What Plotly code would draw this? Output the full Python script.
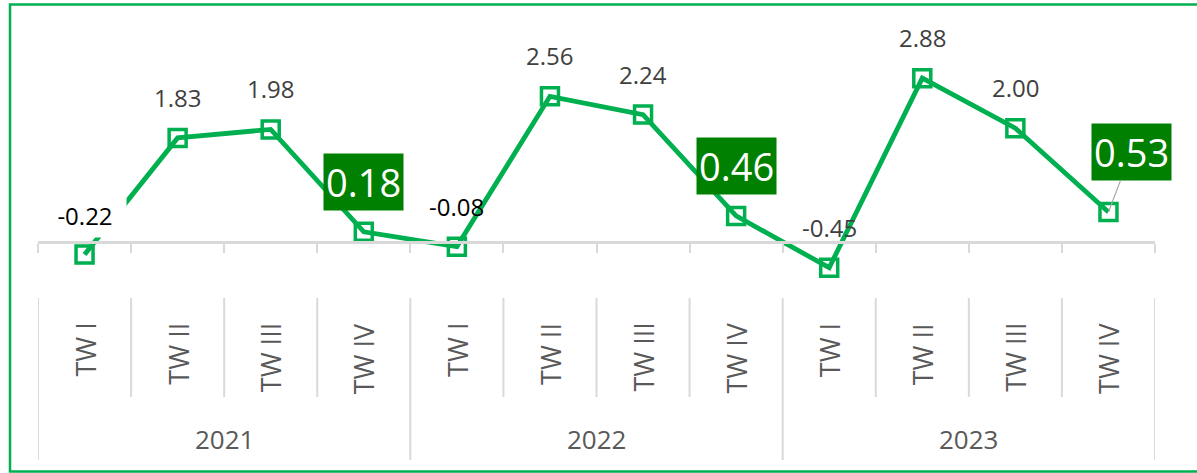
import plotly.graph_objects as go

# ---- data ----
years = ["2021", "2022", "2023"]
quarters = ["TW I", "TW II", "TW III", "TW IV"]
values = [-0.22, 1.83, 1.98, 0.18, -0.08, 2.56, 2.24, 0.46, -0.45, 2.88, 2.00, 0.53]
value_labels = [f"{v:.2f}" for v in values]

# ---- styling helpers ----
W, H = 1197, 473
GREEN = "#00B050"
DARK_GREEN = "#008000"
GRID = "#D9D9D9"
FONT = "Open Sans"

highlight_idx = {3, 7, 11}
dark_label_idx = {0, 4}


def px_x(p):
    return p / W


def px_y(p):
    return (H - p) / H


n = len(values)
x_idx = list(range(n))
YMIN, YMAX = -1, 4
y_dom = [px_y(299), px_y(14.4)]
x_dom = [px_x(38), px_x(1155)]
zero_pos = y_dom[0] + (0 - YMIN) / (YMAX - YMIN) * (y_dom[1] - y_dom[0])

fig = go.Figure()
fig.add_trace(go.Scatter(
    x=x_idx, y=values, mode="lines+markers",
    line=dict(color=GREEN, width=4.8),
    marker=dict(symbol="square-open", size=17, color=GREEN,
                line=dict(width=3.5, color=GREEN)),
    hoverinfo="skip", showlegend=False,
))

shapes = []
# category separators below the plot
for b in range(n + 1):
    is_year = b % len(quarters) == 0
    shapes.append(dict(
        type="line", xref="x", yref="paper",
        x0=b - 0.5, x1=b - 0.5,
        y0=px_y(298), y1=px_y(460 if is_year else 397),
        line=dict(color=GRID, width=2), layer="below",
    ))
# outer border
shapes.append(dict(
    type="rect", xref="paper", yref="paper",
    x0=px_x(10), x1=px_x(1210), y0=px_y(471.5), y1=px_y(4.5),
    line=dict(color=GREEN, width=2.5), fillcolor="rgba(0,0,0,0)",
))

annotations = []
# quarter labels (rotated)
for i in range(n):
    annotations.append(dict(
        x=i, y=px_y(321), xref="x", yref="paper",
        text=quarters[i % len(quarters)], textangle=-90,
        xanchor="center", yanchor="top", showarrow=False,
        font=dict(family=FONT, size=27, color="#595959"),
    ))
# year labels
for k, yr in enumerate(years):
    annotations.append(dict(
        x=k * len(quarters) + (len(quarters) - 1) / 2, y=px_y(439),
        xref="x", yref="paper", text=yr,
        xanchor="center", yanchor="middle", showarrow=False,
        font=dict(family=FONT, size=26, color="#595959"),
    ))
# value labels
for i, (v, lab) in enumerate(zip(values, value_labels)):
    if i in highlight_idx:
        a = dict(
            x=i, y=v, xref="x", yref="y", text=lab,
            bgcolor=DARK_GREEN, borderpad=2,
            font=dict(family=FONT, size=38, color="white"),
        )
        if i == n - 1:
            a.update(showarrow=True, ax=23, ay=-60, arrowhead=0,
                     arrowcolor="#A6A6A6", arrowwidth=1.2, standoff=0)
        else:
            a.update(showarrow=False, xanchor="center", yanchor="bottom", yshift=21)
        annotations.append(a)
    else:
        a = dict(
            x=i, y=v, xref="x", yref="y", text=lab, showarrow=False,
            xanchor="center", yanchor="bottom", yshift=22,
            font=dict(family=FONT, size=24,
                      color="#000000" if i in dark_label_idx else "#404040"),
        )
        if i == 0:
            a.update(bgcolor="white", borderpad=5, yshift=17, width=72)
        annotations.append(a)

fig.update_layout(
    width=W, height=H,
    margin=dict(l=0, r=0, t=0, b=0),
    paper_bgcolor="white", plot_bgcolor="white",
    font=dict(family=FONT),
    showlegend=False,
    xaxis=dict(
        domain=x_dom, range=[-0.5, n - 0.5],
        anchor="free", position=zero_pos,
        showline=True, linecolor=GRID, linewidth=2.5,
        ticks="outside", tickvals=[b - 0.5 for b in range(n + 1)],
        ticklen=9, tickcolor=GRID, tickwidth=2,
        showticklabels=False, showgrid=False, zeroline=False,
        fixedrange=True,
    ),
    yaxis=dict(
        domain=y_dom, range=[YMIN, YMAX], visible=False,
        showgrid=False, zeroline=False, fixedrange=True,
    ),
    shapes=shapes,
    annotations=annotations,
)

fig.write_html(
    "out.html",
    config={"displayModeBar": False},
    post_script="document.body.style.margin='0';document.body.style.overflow='hidden';",
)
